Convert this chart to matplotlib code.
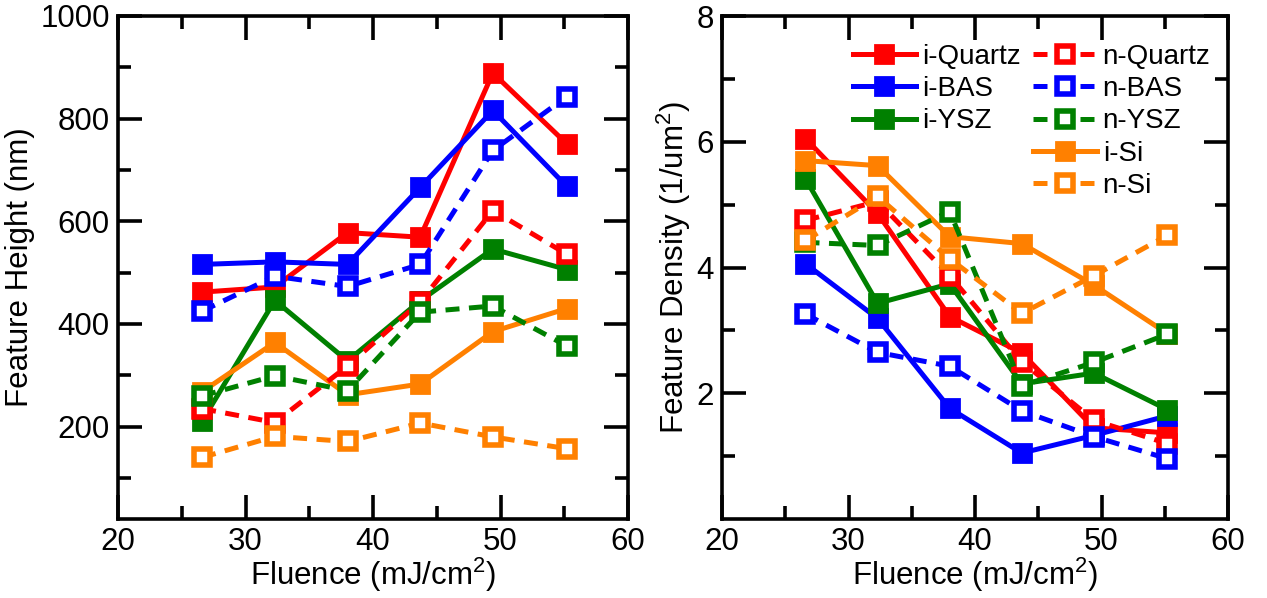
import matplotlib
matplotlib.use("Agg")
import matplotlib.pyplot as plt
from matplotlib.ticker import FixedLocator

plt.rcParams['font.family'] = ['Liberation Sans', 'DejaVu Sans']
plt.rcParams['mathtext.fontset'] = 'custom'
plt.rcParams['mathtext.rm'] = 'Liberation Sans'
plt.rcParams['mathtext.it'] = 'Liberation Sans'
plt.rcParams['mathtext.default'] = 'regular'

# Fluence values (mJ/cm^2)
fluence = [26.6, 32.3, 38.0, 43.7, 49.4, 55.2]

# Feature height (nm)
h_i_quartz = [462, 472, 578, 569, 889, 751]
h_n_quartz = [235, 208, 318, 443, 621, 536]
h_i_bas = [516, 521, 516, 666, 816, 668]
h_n_bas = [425, 493, 473, 516, 738, 843]
h_i_ysz = [211, 446, 328, 445, 546, 506]
h_n_ysz = [260, 299, 270, 423, 435, 357]
h_i_si = [268, 364, 262, 283, 385, 430]
h_n_si = [140, 181, 171, 207, 180, 157]

# Feature density (1/um^2)
d_i_quartz = [6.05, 4.86, 3.22, 2.64, 1.45, 1.37]
d_n_quartz = [4.75, 5.05, 3.87, 2.50, 1.57, 1.20]
d_i_bas = [4.06, 3.19, 1.76, 1.05, 1.33, 1.64]
d_n_bas = [3.26, 2.65, 2.43, 1.72, 1.31, 0.96]
d_i_ysz = [5.41, 3.43, 3.74, 2.15, 2.32, 1.74]
d_n_ysz = [4.40, 4.35, 4.89, 2.12, 2.49, 2.94]
d_i_si = [5.70, 5.62, 4.49, 4.38, 3.72, 2.95]
d_n_si = [4.43, 5.13, 4.14, 3.27, 3.87, 4.51]

RED, BLUE, GREEN, ORANGE = '#FF0000', '#0000FF', '#008000', '#FF8000'

series_i = [('i-Quartz', RED), ('i-BAS', BLUE), ('i-YSZ', GREEN), ('i-Si', ORANGE)]
series_n = [('n-Quartz', RED), ('n-BAS', BLUE), ('n-YSZ', GREEN), ('n-Si', ORANGE)]

height_data = {'i-Quartz': h_i_quartz, 'i-BAS': h_i_bas, 'i-YSZ': h_i_ysz, 'i-Si': h_i_si,
               'n-Quartz': h_n_quartz, 'n-BAS': h_n_bas, 'n-YSZ': h_n_ysz, 'n-Si': h_n_si}
density_data = {'i-Quartz': d_i_quartz, 'i-BAS': d_i_bas, 'i-YSZ': d_i_ysz, 'i-Si': d_i_si,
                'n-Quartz': d_n_quartz, 'n-BAS': d_n_bas, 'n-YSZ': d_n_ysz, 'n-Si': d_n_si}

LW = 3.6
DASH = (2.8, 1.9)
FS = 22.5


def style(kind, color):
    if kind == 'i':
        return dict(color=color, lw=LW, ls='-', marker='s', ms=13, mew=2,
                    mfc=color, mec=color)
    return dict(color=color, lw=LW, ls=(0, DASH), marker='s', ms=11, mew=4,
                mfc='white', mec=color)


def plot_all(ax, data):
    handles = {}
    for name, color in series_i:
        ln, = ax.plot(fluence, data[name], label=name, **style('i', color))
        handles[name] = ln
    for name, color in series_n:
        ln, = ax.plot(fluence, data[name], label=name, **style('n', color))
        handles[name] = ln
    return handles


def frame(ax):
    for sp in ax.spines.values():
        sp.set_linewidth(2.6)
    ax.tick_params(which='both', direction='in', top=True, right=True,
                   width=2.6, labelsize=FS, pad=6)
    ax.tick_params(which='major', length=17)
    ax.tick_params(which='minor', length=9.5)
    ax.set_xlim(20, 60)
    ax.xaxis.set_major_locator(FixedLocator([20, 30, 40, 50, 60]))
    ax.xaxis.set_minor_locator(FixedLocator([25, 35, 45, 55]))
    ax.set_xlabel('Fluence (mJ/cm$^{2}$)', fontsize=FS, labelpad=-1)


fig = plt.figure(figsize=(12.67, 5.98), dpi=100)
W, H = 1267, 598
ax1 = fig.add_axes([118 / W, 1 - 519 / H, (628 - 118) / W, (519 - 16) / H])
ax2 = fig.add_axes([722 / W, 1 - 519 / H, (1228 - 722) / W, (519 - 16) / H])

plot_all(ax1, height_data)
frame(ax1)
ax1.set_ylim(20, 1000)
ax1.yaxis.set_major_locator(FixedLocator([200, 400, 600, 800, 1000]))
ax1.yaxis.set_minor_locator(FixedLocator([100, 300, 500, 700, 900]))
ax1.set_ylabel('Feature Height (nm)', fontsize=FS, labelpad=4)

h = plot_all(ax2, density_data)
frame(ax2)
ax2.set_ylim(0, 8)
ax2.yaxis.set_major_locator(FixedLocator([2, 4, 6, 8]))
ax2.yaxis.set_minor_locator(FixedLocator([1, 3, 5, 7]))
ax2.set_ylabel('Feature Density (1/um$^{2}$)', fontsize=FS, labelpad=2)

leg_kw = dict(frameon=False, fontsize=20, handlelength=2.3, handletextpad=0.2,
              labelspacing=0.23, borderpad=0, borderaxespad=0)
leg1 = ax2.legend([h[n] for n in ['i-Quartz', 'i-BAS', 'i-YSZ']],
                  ['i-Quartz', 'i-BAS', 'i-YSZ'],
                  loc='upper left', bbox_to_anchor=(0.258, 0.945), **leg_kw)
ax2.add_artist(leg1)
ax2.legend([h[n] for n in ['n-Quartz', 'n-BAS', 'n-YSZ', 'i-Si', 'n-Si']],
           ['n-Quartz', 'n-BAS', 'n-YSZ', 'i-Si', 'n-Si'],
           loc='upper left', bbox_to_anchor=(0.615, 0.945), **leg_kw)

fig.savefig('out.png', dpi=100)
